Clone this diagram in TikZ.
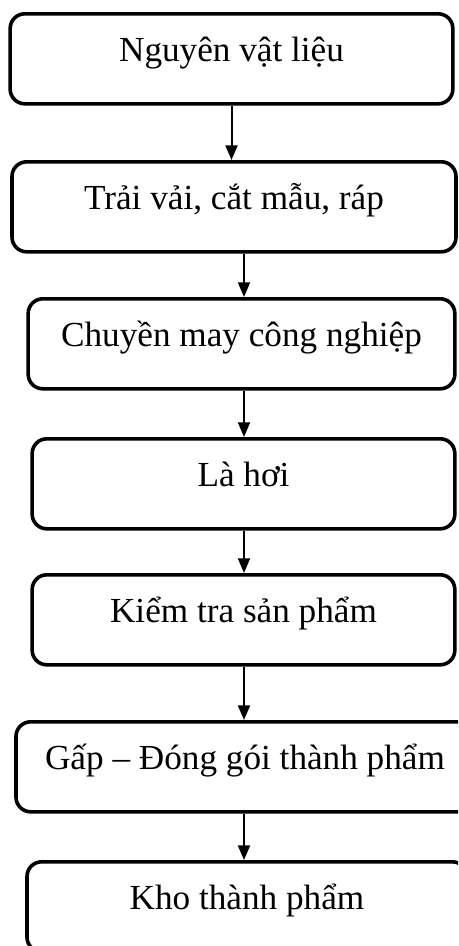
\documentclass[tikz,border=0pt]{standalone}
\usepackage{fontspec}
\setmainfont{Liberation Serif}
\usetikzlibrary{arrows.meta}

\begin{document}
\begin{tikzpicture}[x=0.75pt, y=-0.75pt, >={Triangle[length=11pt, width=9pt]},
    stage/.style={draw, line width=2.7pt, rounded corners=11pt, anchor=north,
        inner xsep=0pt, inner ysep=0pt, text height=36pt, text depth=31.5pt,
        font=\fontsize{26.4}{30}\selectfont},
    flow/.style={->, line width=1.5pt}]
    \useasboundingbox (0,0) rectangle (458,946);
    \clip (0,0) rectangle (458,946);
    % process stages, top to bottom
    \node[stage, minimum width=332pt] (material) at (231.5,12) {Nguyên vật liệu};
    \node[stage, minimum width=333pt] (cutting) at (234,160) {Trải vải, cắt mẫu, ráp};
    \node[stage, minimum width=320pt] (sewing) at (241.5,297) {Chuyền may công nghiệp};
    \node[stage, minimum width=317pt] (pressing) at (243.5,437) {Là hơi};
    \node[stage, minimum width=317pt] (checking) at (243.5,573) {Kiểm tra sản phẩm};
    \node[stage, minimum width=343.5pt] (packing) at (245,720) {Gấp – Đóng gói thành phẩm};
    \node[stage, minimum width=330pt] (store) at (247,860) {Kho thành phẩm};
    \coordinate (axis) at (244,0);
    % arrows
    \draw[flow] (material.south) -- (cutting.north -| material.south);
    \draw[flow] (cutting.south -| axis) -- (sewing.north -| axis);
    \draw[flow] (sewing.south -| axis) -- (pressing.north -| axis);
    \draw[flow] (pressing.south -| axis) -- (checking.north -| axis);
    \draw[flow] (checking.south -| axis) -- (packing.north -| axis);
    \draw[flow] (packing.south -| axis) -- (store.north -| axis);
\end{tikzpicture}
\end{document}
